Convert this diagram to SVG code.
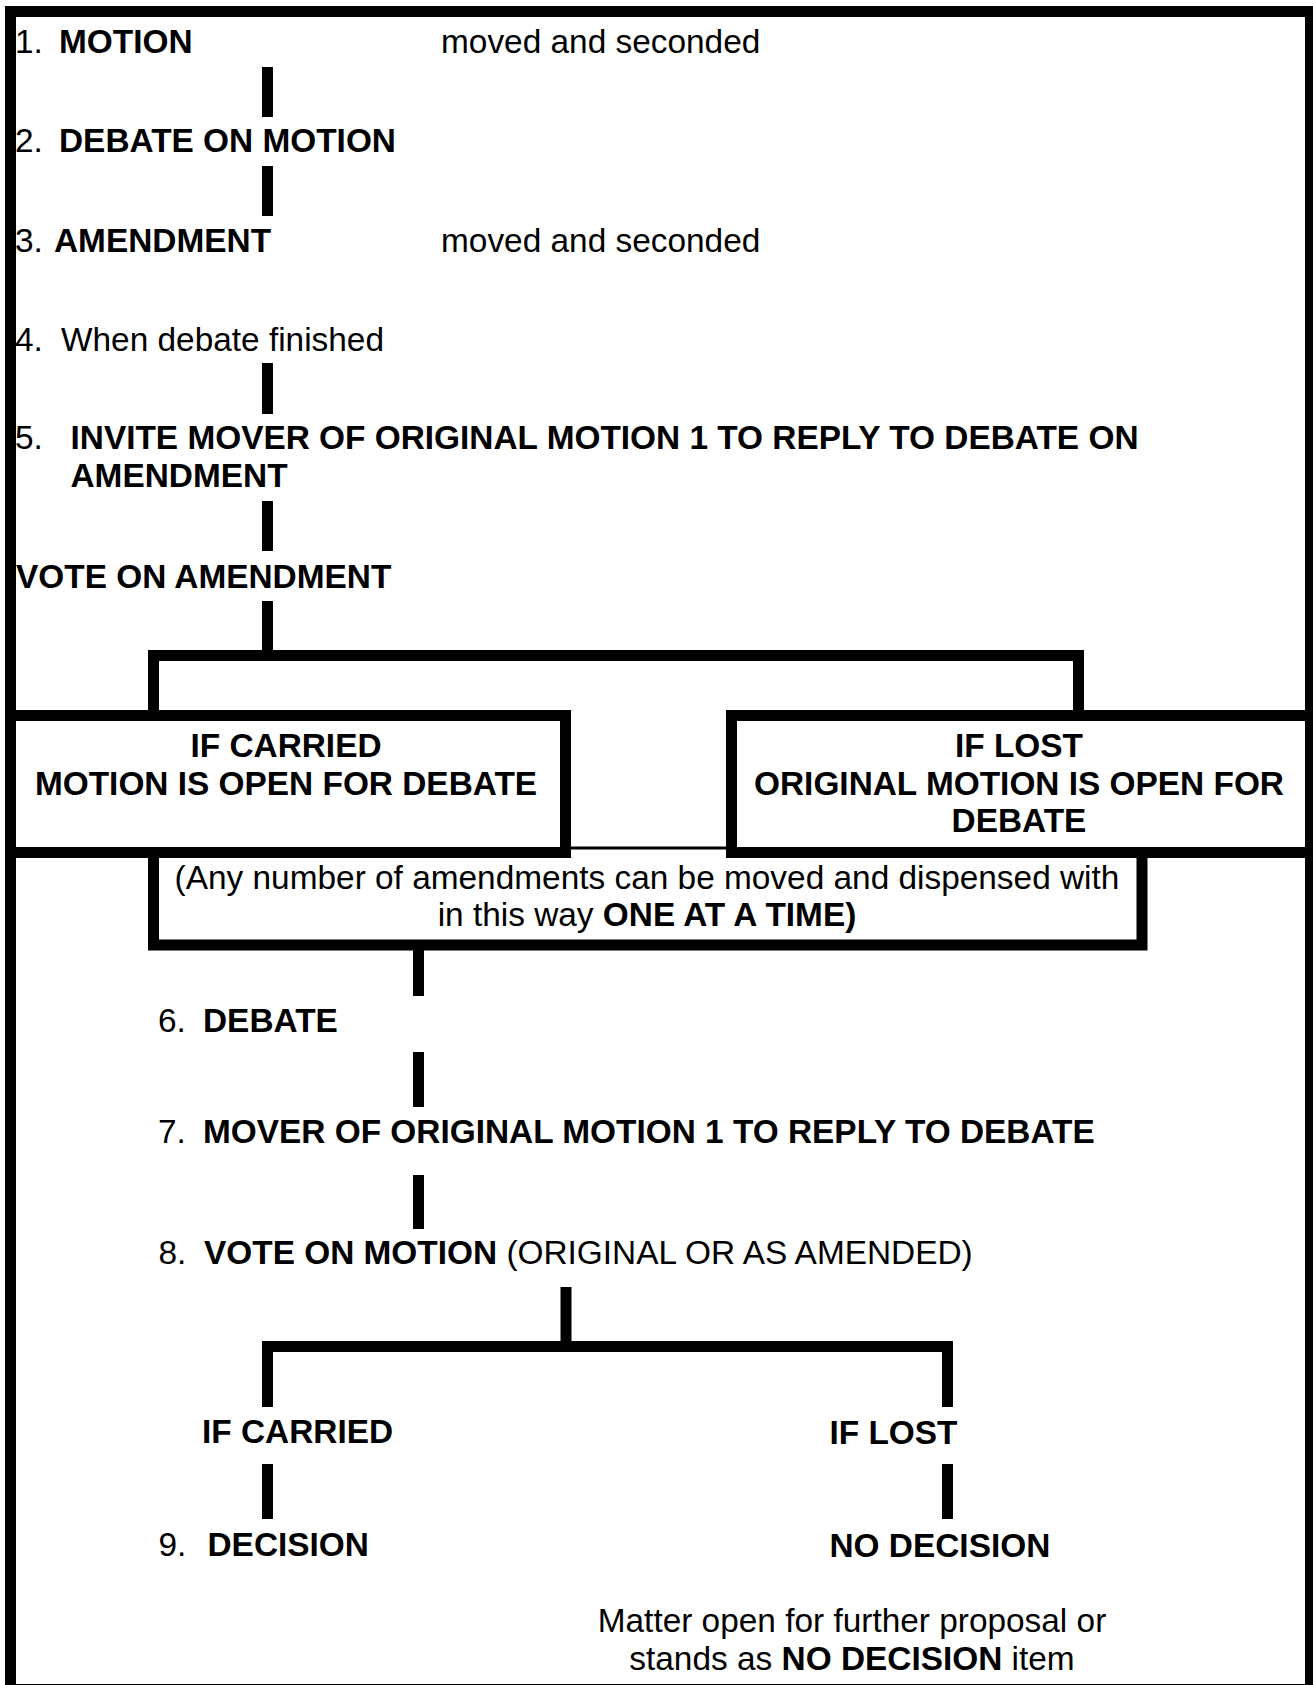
<svg xmlns="http://www.w3.org/2000/svg" width="1313" height="1685" viewBox="0 0 1313 1685">
<style>
text{font-family:"Liberation Sans",Arial,sans-serif;font-size:33.4px;fill:#000}
.b{font-weight:bold}
.c{text-anchor:middle}
.frame{fill:none;stroke:#000;stroke-width:11}
.conn line{stroke:#000;stroke-width:11;stroke-linecap:butt}
.conn path{fill:none;stroke:#000;stroke-width:11;stroke-linejoin:miter}
</style>
<rect width="1313" height="1685" fill="#fff"/>
<rect id="page-frame" class="frame" x="10.5" y="11.5" width="1300" height="1678"/>

<g id="connectors" class="conn">
<line x1="267.5" y1="67" x2="267.5" y2="117"/>
<line x1="267.5" y1="166" x2="267.5" y2="216"/>
<line x1="267.5" y1="363" x2="267.5" y2="414"/>
<line x1="267.5" y1="501" x2="267.5" y2="551"/>
<line x1="267.5" y1="601" x2="267.5" y2="652"/>
<path d="M153.5,712 V655.5 H1078.5 V712"/>
<line x1="418.5" y1="950" x2="418.5" y2="996"/>
<line x1="418.5" y1="1052" x2="418.5" y2="1107"/>
<line x1="418.5" y1="1175" x2="418.5" y2="1229"/>
<line x1="566" y1="1287" x2="566" y2="1343"/>
<path d="M267.5,1407 V1346.5 H947.5 V1407"/>
<line x1="267.5" y1="1464" x2="267.5" y2="1519"/>
<line x1="947.5" y1="1464" x2="947.5" y2="1519"/>
</g>

<g id="step1">
<text x="15" y="53">1.</text><text class="b" x="59" y="53">MOTION</text>
<text x="441" y="53">moved and seconded</text>
</g>
<g id="step2">
<text x="15" y="152">2.</text><text class="b" x="59" y="152">DEBATE ON MOTION</text>
</g>
<g id="step3">
<text x="15" y="252">3.</text><text class="b" x="54" y="252">AMENDMENT</text>
<text x="441" y="252">moved and seconded</text>
</g>
<g id="step4">
<text x="15" y="351">4.</text><text x="61" y="351">When debate finished</text>
</g>
<g id="step5">
<text x="15" y="449">5.</text>
<text class="b" x="70.5" y="449">INVITE MOVER OF ORIGINAL MOTION 1 TO REPLY TO DEBATE ON</text>
<text class="b" x="70.5" y="487">AMENDMENT</text>
</g>
<g id="vote-amendment">
<text class="b" x="16" y="588">VOTE ON AMENDMENT</text>
</g>

<g id="if-carried-box">
<rect class="frame" x="10.5" y="715.5" width="555" height="137"/>
<text class="b c" x="286" y="757">IF CARRIED</text>
<text class="b c" x="286" y="795">MOTION IS OPEN FOR DEBATE</text>
</g>
<g id="if-lost-box">
<rect class="frame" x="731.5" y="715.5" width="579" height="137"/>
<text class="b c" x="1019" y="757">IF LOST</text>
<text class="b c" x="1019" y="795">ORIGINAL MOTION IS OPEN FOR</text>
<text class="b c" x="1019" y="832">DEBATE</text>
</g>
<g id="amendments-note">
<path d="M153.5,856 V945 H1142 V856" fill="none" stroke="#000" stroke-width="11"/>
<line x1="570" y1="848" x2="727" y2="848" stroke="#000" stroke-width="3"/>
<text class="c" x="647" y="889">(Any number of amendments can be moved and dispensed with</text>
<text class="c" x="647" y="926">in this way <tspan class="b">ONE AT A TIME)</tspan></text>
</g>

<g id="step6">
<text x="158" y="1032">6.</text><text class="b" x="203" y="1032">DEBATE</text>
</g>
<g id="step7">
<text x="158" y="1143">7.</text><text class="b" x="203" y="1143">MOVER OF ORIGINAL MOTION 1 TO REPLY TO DEBATE</text>
</g>
<g id="step8">
<text x="158.5" y="1264">8.</text><text x="204" y="1264"><tspan class="b">VOTE ON MOTION</tspan> (ORIGINAL OR AS AMENDED)</text>
</g>
<g id="if-carried">
<text class="b" x="202" y="1443">IF CARRIED</text>
</g>
<g id="if-lost">
<text class="b" x="829.5" y="1444">IF LOST</text>
</g>
<g id="step9-decision">
<text x="158.5" y="1556">9.</text><text class="b" x="207.5" y="1556">DECISION</text>
</g>
<g id="no-decision">
<text class="b" x="829.5" y="1557">NO DECISION</text>
<text class="c" x="852" y="1632">Matter open for further proposal or</text>
<text class="c" x="852" y="1670">stands as <tspan class="b">NO DECISION</tspan> item</text>
</g>
</svg>
